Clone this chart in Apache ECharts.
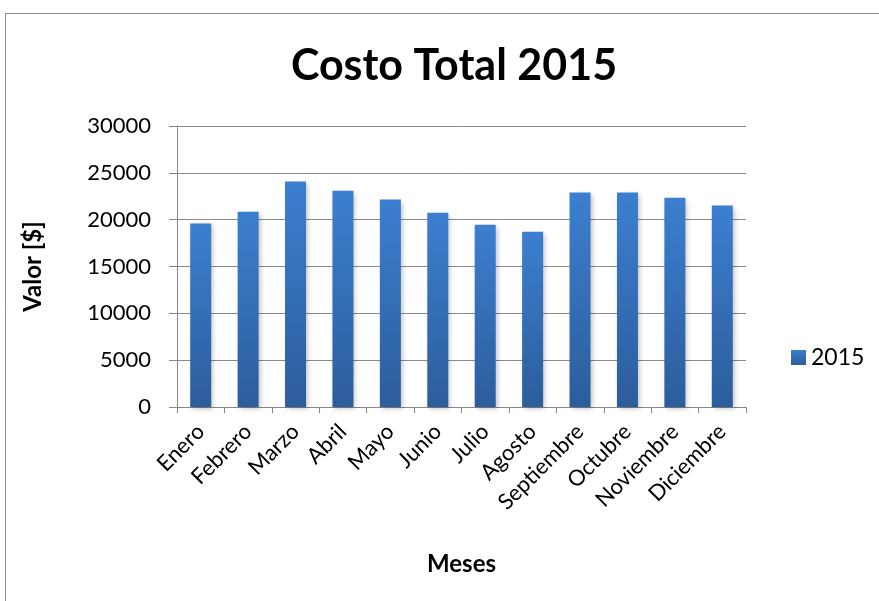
<!DOCTYPE html>
<html><head><meta charset="utf-8">
<script src="https://cdn.jsdelivr.net/npm/echarts@6/dist/echarts.min.js"></script>
<style>html,body{margin:0;padding:0;background:#fff}#c{width:879px;height:601px}</style>
</head><body><div id="c"></div>
<script>
const categories = ['Enero','Febrero','Marzo','Abril','Mayo','Junio','Julio','Agosto','Septiembre','Octubre','Noviembre','Diciembre'];
const values2015 = [19600, 20850, 24070, 23100, 22150, 20750, 19450, 18700, 22900, 22900, 22350, 21500];
const seriesName = '2015';
const yTicks = { min: 0, max: 30000, interval: 5000 };

const chart = echarts.init(document.getElementById('c'), null, {renderer: 'canvas'});
const font = 'Lato, "Open Sans", "Liberation Sans", sans-serif';
chart.setOption({
  animation: false,
  backgroundColor: '#fff',
  graphic: [{
    type: 'rect', shape: {x: 5.5, y: 13.5, width: 900, height: 700},
    style: {fill: 'none', stroke: '#8c8c8c', lineWidth: 1}, silent: true
  }],
  title: {
    text: 'Costo Total 2015', left: 449, top: 40, textAlign: 'center',
    textStyle: {fontFamily: font, fontSize: 43, fontWeight: 'bold', color: '#000'}
  },
  legend: {
    data: [{name: seriesName, icon: 'rect'}], left: 786, top: 341, itemWidth: 15, itemHeight: 15, itemGap: 5,
    textStyle: {fontFamily: font, fontSize: 23, color: '#000'}
  },
  grid: {left: 177, top: 126, right: 133, bottom: 194},
  xAxis: {
    type: 'category', data: categories, name: 'Meses', nameLocation: 'middle', nameGap: 145,
    nameTextStyle: {fontFamily: font, fontSize: 24, fontWeight: 'bold', color: '#000'},
    axisLine: {lineStyle: {color: '#868686', width: 1}},
    axisTick: {show: true, alignWithLabel: false, length: 6, lineStyle: {color: '#868686'}},
    axisLabel: {rotate: 45, fontFamily: font, fontSize: 22, color: '#000', margin: 21, interval: 0}
  },
  yAxis: {
    type: 'value', min: yTicks.min, max: yTicks.max, interval: yTicks.interval,
    name: 'Valor [$]', nameLocation: 'middle', nameGap: 132, nameRotate: 90,
    nameTextStyle: {fontFamily: font, fontSize: 24, fontWeight: 'bold', color: '#000'},
    axisLine: {show: true, lineStyle: {color: '#868686', width: 1}},
    axisTick: {show: true, length: 8, lineStyle: {color: '#868686'}},
    axisLabel: {fontFamily: font, fontSize: 22, color: '#000', margin: 26, formatter: v => String(v)},
    splitLine: {lineStyle: {color: '#8a8a8a', width: 1}}
  },
  series: [{
    name: seriesName, type: 'bar', data: values2015, barWidth: 21,
    itemStyle: {
      color: new echarts.graphic.LinearGradient(0, 0, 0, 1, [
        {offset: 0, color: '#3c7fd0'}, {offset: 1, color: '#2c5d9b'}
      ]),
      shadowColor: 'rgba(0,0,0,0.25)', shadowBlur: 5, shadowOffsetX: 2, shadowOffsetY: 2
    }
  }]
});
</script></body></html>
